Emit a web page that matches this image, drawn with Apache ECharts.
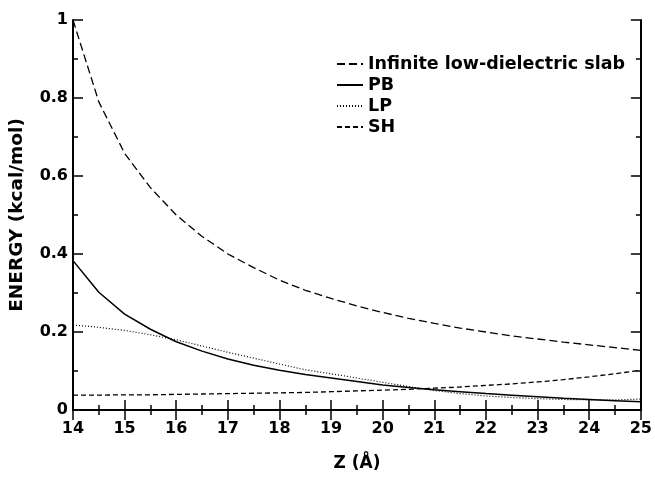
<!DOCTYPE html>
<html>
<head>
<meta charset="utf-8">
<script src="https://cdn.jsdelivr.net/npm/echarts@6/dist/echarts.min.js"></script>
<style>html,body{margin:0;padding:0;background:#fff;}#c{width:655px;height:477px;}</style>
</head>
<body>
<div id="c"></div>
<script>
const zValues = [14,14.5,15,15.5,16,16.5,17,17.5,18,18.5,19,19.5,20,20.5,21,21.5,22,22.5,23,23.5,24,24.5,25];
const slab = [1.0,0.79,0.658,0.57,0.50,0.445,0.40,0.365,0.333,0.307,0.286,0.267,0.25,0.235,0.222,0.21,0.20,0.19,0.182,0.174,0.167,0.16,0.153];
const pb = [0.383,0.302,0.246,0.207,0.175,0.151,0.131,0.115,0.102,0.091,0.082,0.073,0.064,0.058,0.052,0.047,0.042,0.038,0.034,0.030,0.027,0.024,0.021];
const lp = [0.218,0.212,0.204,0.193,0.180,0.164,0.148,0.133,0.118,0.103,0.093,0.082,0.071,0.060,0.050,0.042,0.036,0.032,0.029,0.027,0.026,0.026,0.028];
const sh = [0.038,0.038,0.039,0.039,0.040,0.041,0.042,0.043,0.044,0.045,0.047,0.049,0.051,0.053,0.056,0.059,0.063,0.067,0.072,0.078,0.085,0.093,0.102];
const seriesNames = ['Infinite low-dielectric slab','PB','LP','SH'];

const pair = arr => zValues.map((z,i)=>[z,arr[i]]);
const font = '"DejaVu Sans", Verdana, sans-serif';
const axisLine = {show:true, lineStyle:{color:'#000', width:2}};
const tick = {show:true, inside:true, length:10, lineStyle:{color:'#000', width:1.5}};
const minor = {show:true, splitNumber:2, length:5, lineStyle:{color:'#000', width:1.5}};
const lbl = {color:'#000', fontFamily:font, fontWeight:'bold', fontSize:16};

const chart = echarts.init(document.getElementById('c'), null, {renderer:'canvas'});
function mk(name, data, type, width){
  return {name, type:'line', data:pair(data), symbol:'none', showSymbol:false, smooth:false,
    lineStyle:{color:'#000', width:width, type:type}, itemStyle:{color:'#000'}, z:3, animation:false};
}
chart.setOption({
  animation:false,
  backgroundColor:'#fff',
  grid:{left:68, right:12, top:20, bottom:57, containLabel:false},
  legend:{
    orient:'vertical', left:331, top:50, itemWidth:26, itemHeight:14, itemGap:3,
    itemStyle:{opacity:0},
    textStyle:{color:'#000', fontFamily:font, fontWeight:'bold', fontSize:17.5},
    data:seriesNames
  },
  xAxis:[{
    type:'value', min:14, max:25, interval:1,
    axisLine, axisTick:tick, minorTick:minor, splitLine:{show:false},
    axisLabel:Object.assign({margin:11}, lbl),
    name:'Z (Å)', nameLocation:'middle', nameGap:45,
    nameTextStyle:{color:'#000', fontFamily:font, fontWeight:'bold', fontSize:17}
  },{
    type:'value', position:'top', min:14, max:25, interval:1,
    axisLine, axisTick:tick, minorTick:minor, splitLine:{show:false}, axisLabel:{show:false}
  }],
  yAxis:[{
    type:'value', min:0, max:1, interval:0.2,
    axisLine, axisTick:tick, minorTick:minor, splitLine:{show:false},
    axisLabel:Object.assign({margin:5}, lbl),
    name:'ENERGY (kcal/mol)', nameLocation:'middle', nameGap:46, nameRotate:90,
    nameTextStyle:{color:'#000', fontFamily:font, fontWeight:'bold', fontSize:18.5}
  },{
    type:'value', position:'right', min:0, max:1, interval:0.2,
    axisLine, axisTick:tick, minorTick:minor, splitLine:{show:false}, axisLabel:{show:false}
  }],
  series:[
    mk(seriesNames[0], slab, [8,4], 1.3),
    mk(seriesNames[1], pb, 'solid', 1.5),
    mk(seriesNames[2], lp, [1,2], 1.2),
    mk(seriesNames[3], sh, [5,3], 1.3)
  ]
});
</script>
</body>
</html>
